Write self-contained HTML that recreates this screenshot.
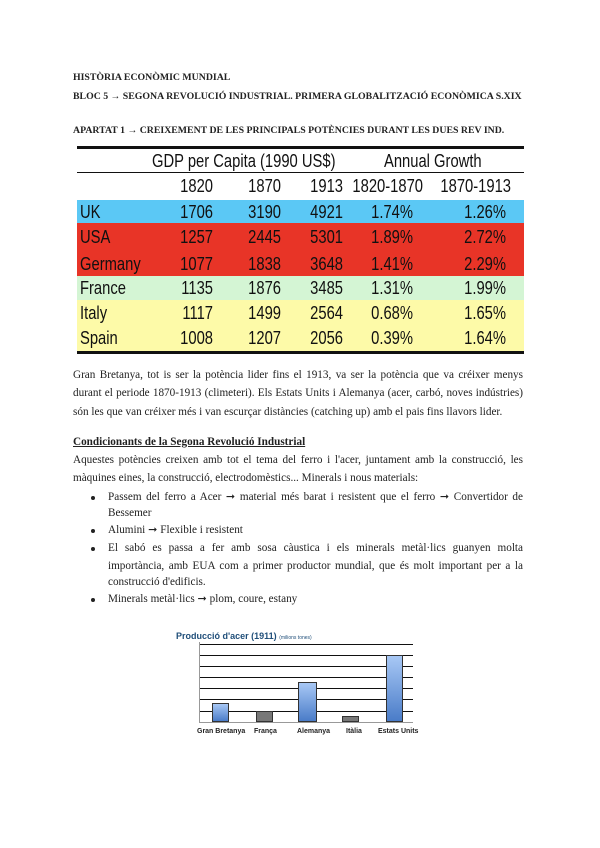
<!DOCTYPE html>
<html><head><meta charset="utf-8"><style>
body{margin:0;width:600px;height:848px;background:#fff;position:relative;overflow:hidden;font-family:"Liberation Serif",serif;color:#222}
.l{position:absolute;left:73px;width:450px;font-size:11.2px;line-height:14px;white-space:nowrap}
.j{text-align:justify;text-align-last:justify;white-space:normal}
.b{left:108px;width:415px}
.dot{position:absolute;left:91px;width:4px;height:4px;border-radius:50%;background:#222}
.t{position:absolute;font-family:"Liberation Sans",sans-serif;font-size:18px;color:#111;line-height:20px;transform:scaleX(0.82);transform-origin:left center;white-space:nowrap}
.r{text-align:right;transform-origin:right center}
.g{position:absolute;left:199px;width:214px;height:1px;background:#111}
.lab{position:absolute;top:728px;font-family:"Liberation Sans",sans-serif;font-size:7px;font-weight:bold;color:#222}
.h{font-weight:bold;font-size:9.8px}
</style></head><body>
<div class="l h" style="top:71px">HISTÒRIA ECONÒMIC MUNDIAL</div>
<div class="l h" style="top:90px">BLOC 5 → SEGONA REVOLUCIÓ INDUSTRIAL. PRIMERA GLOBALITZACIÓ ECONÒMICA S.XIX</div>
<div class="l h" style="top:124px">APARTAT 1 → CREIXEMENT DE LES PRINCIPALS POTÈNCIES DURANT LES DUES REV IND.</div>

<div style="position:absolute;left:77px;top:146px;width:447px;height:3px;background:#111"></div>
<div style="position:absolute;left:77px;top:172px;width:447px;height:1px;background:#111"></div>
<div style="position:absolute;left:77px;top:200px;width:447px;height:23px;background:#5bc8f5"></div>
<div style="position:absolute;left:77px;top:223px;width:447px;height:53px;background:#e83427"></div>
<div style="position:absolute;left:77px;top:276px;width:447px;height:24px;background:#d4f5d4"></div>
<div style="position:absolute;left:77px;top:300px;width:447px;height:51px;background:#fdfaa8"></div>
<div style="position:absolute;left:77px;top:351px;width:447px;height:3px;background:#111"></div>

<div class="t" style="left:152px;top:151px">GDP per Capita (1990 US$)</div>
<div class="t" style="left:384px;top:151px">Annual Growth</div>
<div class="t r" style="left:163px;width:50px;top:176px">1820</div>
<div class="t r" style="left:231px;width:50px;top:176px">1870</div>
<div class="t r" style="left:293px;width:50px;top:176px">1913</div>
<div class="t r" style="left:313px;width:110px;top:176px">1820-1870</div>
<div class="t r" style="left:401px;width:110px;top:176px">1870-1913</div>

<div class="t" style="left:80px;top:202px">UK</div>
<div class="t" style="left:80px;top:227px">USA</div>
<div class="t" style="left:80px;top:254px">Germany</div>
<div class="t" style="left:80px;top:278px">France</div>
<div class="t" style="left:80px;top:303px">Italy</div>
<div class="t" style="left:80px;top:328px">Spain</div>

<div class="t r" style="left:153px;width:60px;top:202px">1706</div>
<div class="t r" style="left:153px;width:60px;top:227px">1257</div>
<div class="t r" style="left:153px;width:60px;top:254px">1077</div>
<div class="t r" style="left:153px;width:60px;top:278px">1135</div>
<div class="t r" style="left:153px;width:60px;top:303px">1117</div>
<div class="t r" style="left:153px;width:60px;top:328px">1008</div>
<div class="t r" style="left:221px;width:60px;top:202px">3190</div>
<div class="t r" style="left:221px;width:60px;top:227px">2445</div>
<div class="t r" style="left:221px;width:60px;top:254px">1838</div>
<div class="t r" style="left:221px;width:60px;top:278px">1876</div>
<div class="t r" style="left:221px;width:60px;top:303px">1499</div>
<div class="t r" style="left:221px;width:60px;top:328px">1207</div>
<div class="t r" style="left:283px;width:60px;top:202px">4921</div>
<div class="t r" style="left:283px;width:60px;top:227px">5301</div>
<div class="t r" style="left:283px;width:60px;top:254px">3648</div>
<div class="t r" style="left:283px;width:60px;top:278px">3485</div>
<div class="t r" style="left:283px;width:60px;top:303px">2564</div>
<div class="t r" style="left:283px;width:60px;top:328px">2056</div>
<div class="t r" style="left:343px;width:70px;top:202px">1.74%</div>
<div class="t r" style="left:343px;width:70px;top:227px">1.89%</div>
<div class="t r" style="left:343px;width:70px;top:254px">1.41%</div>
<div class="t r" style="left:343px;width:70px;top:278px">1.31%</div>
<div class="t r" style="left:343px;width:70px;top:303px">0.68%</div>
<div class="t r" style="left:343px;width:70px;top:328px">0.39%</div>
<div class="t r" style="left:436px;width:70px;top:202px">1.26%</div>
<div class="t r" style="left:436px;width:70px;top:227px">2.72%</div>
<div class="t r" style="left:436px;width:70px;top:254px">2.29%</div>
<div class="t r" style="left:436px;width:70px;top:278px">1.99%</div>
<div class="t r" style="left:436px;width:70px;top:303px">1.65%</div>
<div class="t r" style="left:436px;width:70px;top:328px">1.64%</div>

<div class="l j" style="top:368px">Gran Bretanya, tot is ser la potència lider fins el 1913, va ser la potència que va créixer menys</div>
<div class="l j" style="top:386px">durant el periode 1870-1913 (climeteri). Els Estats Units i Alemanya (acer, carbó, noves indústries)</div>
<div class="l" style="top:405px">són les que van créixer més i van escurçar distàncies (catching up) amb el pais fins llavors lider.</div>
<div class="l" style="top:435px;font-weight:bold;text-decoration:underline">Condicionants de la Segona Revolució Industrial</div>
<div class="l j" style="top:453px">Aquestes potències creixen amb tot el tema del ferro i l'acer, juntament amb la construcció, les</div>
<div class="l" style="top:471px">màquines eines, la construcció, electrodomèstics... Minerals i nous materials:</div>
<div class="dot" style="top:496px"></div>
<div class="l b j" style="top:490px">Passem del ferro a Acer ➞ material més barat i resistent que el ferro ➞ Convertidor de</div>
<div class="l b" style="top:506px">Bessemer</div>
<div class="dot" style="top:529px"></div>
<div class="l b" style="top:523px">Alumini ➞ Flexible i resistent</div>
<div class="dot" style="top:547px"></div>
<div class="l b j" style="top:541px">El sabó es passa a fer amb sosa càustica i els minerals metàl·lics guanyen molta</div>
<div class="l b j" style="top:559px">importància, amb EUA com a primer productor mundial, que és molt important per a la</div>
<div class="l b" style="top:575px">construcció d'edificis.</div>
<div class="dot" style="top:598px"></div>
<div class="l b" style="top:592px">Minerals metàl·lics ➞ plom, coure, estany</div>

<div style="position:absolute;left:176px;top:631px;font-family:'Liberation Sans',sans-serif;font-weight:bold;font-size:9px;color:#1f4e79">Producció d'acer (1911) <span style="font-size:5px;font-weight:normal">(milions tones)</span></div>
<div class="g" style="top:644px"></div><div class="g" style="top:655px"></div><div class="g" style="top:666px"></div><div class="g" style="top:677px"></div><div class="g" style="top:688px"></div><div class="g" style="top:699px"></div><div class="g" style="top:711px"></div><div class="g" style="top:722px;background:#999"></div>
<div style="position:absolute;left:199px;top:642px;width:1px;height:80px;background:#999"></div>
<div style="position:absolute;left:212px;top:703px;width:17px;height:19px;background:linear-gradient(#a8c8f5,#4a7cc8);border:1px solid #333;box-sizing:border-box"></div>
<div style="position:absolute;left:256px;top:711px;width:17px;height:11px;background:#777;border:1px solid #333;box-sizing:border-box"></div>
<div style="position:absolute;left:298px;top:682px;width:19px;height:40px;background:linear-gradient(#a8c8f5,#4a7cc8);border:1px solid #333;box-sizing:border-box"></div>
<div style="position:absolute;left:342px;top:716px;width:17px;height:6px;background:#777;border:1px solid #333;box-sizing:border-box"></div>
<div style="position:absolute;left:386px;top:655px;width:17px;height:67px;background:linear-gradient(#a8c8f5,#4a7cc8);border:1px solid #333;box-sizing:border-box"></div>
<div class="lab" style="left:197px">Gran Bretanya</div>
<div class="lab" style="left:254px">França</div>
<div class="lab" style="left:297px">Alemanya</div>
<div class="lab" style="left:346px">Itàlia</div>
<div class="lab" style="left:378px">Estats Units</div>
</body></html>
